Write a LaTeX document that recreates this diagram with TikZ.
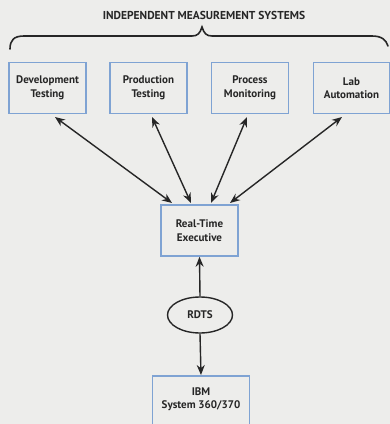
\documentclass[tikz,border=0pt]{standalone}
\usepackage{fontspec}
\setmainfont{PT Sans}
\usetikzlibrary{arrows.meta,shapes.geometric}
\definecolor{bg}{HTML}{EDEDEB}
\definecolor{boxblue}{HTML}{7FA3D3}
\definecolor{ink}{HTML}{262626}
\tikzset{
  x=1pt,y=-1pt,
  boxfont/.style={font=\bfseries\fontsize{11}{13.5}\selectfont,text=ink},
  sysbox/.style={draw=boxblue,line width=1.5pt,minimum width=77pt,minimum height=51pt,align=center,boxfont,inner sep=0pt},
  conn/.style={draw=ink,line width=1.4pt,-{Stealth[length=10pt,width=8pt]}},
  bothconn/.style={draw=ink,line width=1.4pt,{Stealth[length=10pt,width=8pt]}-{Stealth[length=10pt,width=8pt]}},
  bracepath/.style={draw=ink,line width=1.6pt,line cap=round},
}
\begin{document}
\begin{tikzpicture}
\fill[bg] (0,0) rectangle (390,424);
\useasboundingbox (0,0) rectangle (390,424);
\node[font=\bfseries\fontsize{11.5}{13}\selectfont,text=ink] (title) at (204,15) {INDEPENDENT MEASUREMENT SYSTEMS};
% brace
\draw[bracepath] (10,49) .. controls (10,40) and (14,36) .. (24,36) -- (192,36) .. controls (198,36) and (200,33) .. (202,27) .. controls (204,33) and (206,36) .. (212,36) -- (372,36) .. controls (382,36) and (386,40) .. (388,46);
\node[sysbox] (dev) at (47.5,88) {Development\\Testing};
\node[sysbox] (prod) at (148.5,88) {Production\\Testing};
\node[sysbox] (proc) at (250,88) {Process\\Monitoring};
\node[sysbox,minimum width=76pt] (lab) at (351.5,88) {Lab\\Automation};
\node[sysbox] (rte) at (199.5,230.5) {Real-Time\\Executive};
\node[draw=ink,line width=1.4pt,ellipse,minimum width=65pt,minimum height=36pt,inner sep=0pt,boxfont] (rdts) at (200,315) {RDTS};
\node[sysbox,minimum width=97pt,minimum height=60pt,anchor=north] (ibm) at (201,375) {};
\node[boxfont,align=center] (ibmtext) at (201,399) {IBM\\System 360/370};
\coordinate (d1) at (55,117); \coordinate (d2) at (172,203);
\coordinate (p1) at (152,117); \coordinate (p2) at (191,203);
\coordinate (m1) at (247,117); \coordinate (m2) at (211,203);
\coordinate (l1) at (342,117); \coordinate (l2) at (230,203);
\draw[bothconn] (d1) -- (d2);
\draw[bothconn] (p1) -- (p2);
\draw[bothconn] (m1) -- (m2);
\draw[bothconn] (l1) -- (l2);
\draw[conn] (rdts.north) -- (rte.south);
\draw[conn] (rdts.south) -- (ibm.north);
\end{tikzpicture}
\end{document}
